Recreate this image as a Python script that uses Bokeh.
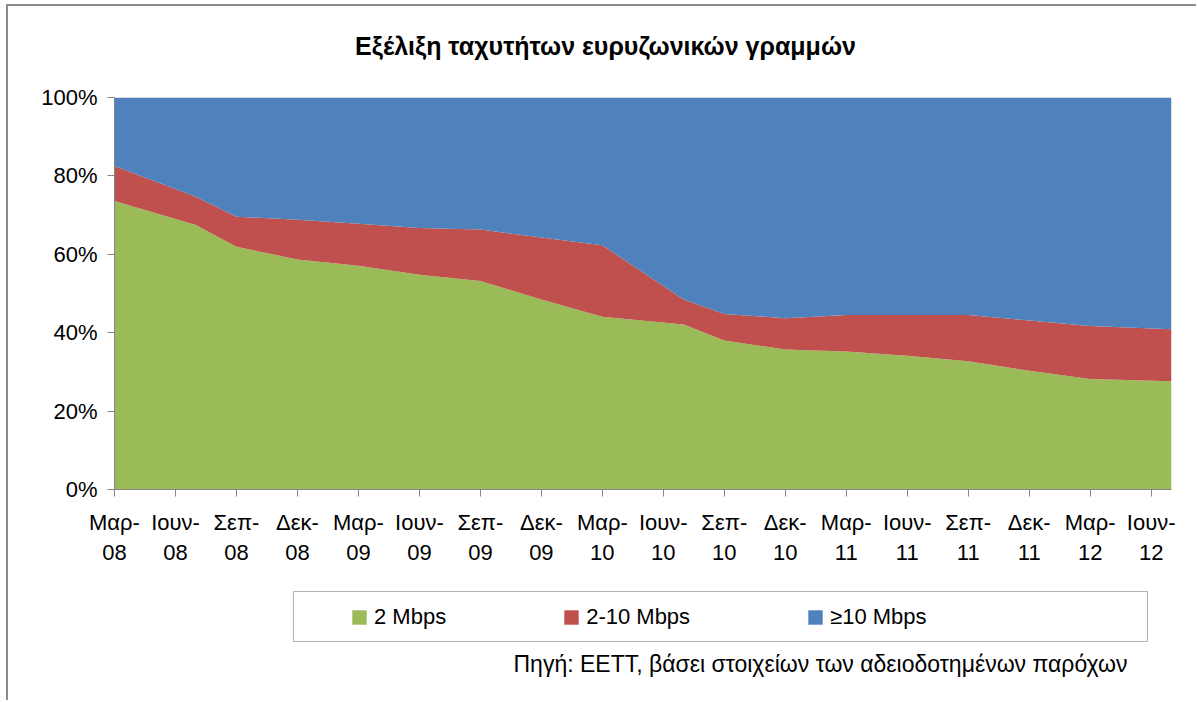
from bokeh.plotting import figure
from bokeh.layouts import column
from bokeh.models import Range1d, FixedTicker, Legend, LegendItem, ColumnDataSource, Label, BoxAnnotation
from bokeh.embed import file_html
from bokeh.resources import INLINE

# ---------------- data ----------------
dates = ["2008-03", "2008-07", "2008-09", "2008-12", "2009-03", "2009-06",
         "2009-09", "2009-12", "2010-03", "2010-07", "2010-09", "2010-12",
         "2011-03", "2011-06", "2011-09", "2011-12", "2012-03", "2012-07"]
share_2 = [73.6, 67.5, 61.9, 58.7, 57.1, 54.8, 53.2, 48.5, 44.1, 42.1,
           38.0, 35.7, 35.2, 34.1, 32.7, 30.3, 28.2, 27.6]
share_2_10 = [8.9, 7.2, 7.7, 10.1, 10.7, 11.9, 13.1, 15.8, 18.2, 6.4,
              6.8, 8.0, 9.3, 10.4, 11.8, 12.8, 13.5, 13.3]
share_10 = [17.5, 25.3, 30.4, 31.2, 32.2, 33.3, 33.7, 35.7, 37.7, 51.5,
            55.2, 56.3, 55.5, 55.5, 55.5, 56.9, 58.3, 59.1]
series_names = ["2 Mbps", "2-10 Mbps", "≥10 Mbps"]
series_colors = ["#9BBB59", "#C0504D", "#4F81BD"]
tick_labels = ["Μαρ-\n08", "Ιουν-\n08", "Σεπ-\n08", "Δεκ-\n08",
               "Μαρ-\n09", "Ιουν-\n09", "Σεπ-\n09", "Δεκ-\n09",
               "Μαρ-\n10", "Ιουν-\n10", "Σεπ-\n10", "Δεκ-\n10",
               "Μαρ-\n11", "Ιουν-\n11", "Σεπ-\n11", "Δεκ-\n11",
               "Μαρ-\n12", "Ιουν-\n12"]
y_ticks = [0, 20, 40, 60, 80, 100]
title_text = "Εξέλιξη ταχυτήτων ευρυζωνικών γραμμών"
source_text = "Πηγή: ΕΕΤΤ, βάσει στοιχείων των αδειοδοτημένων παρόχων"


def month_index(d):
    y, m = d.split("-")
    return (int(y) - 2008) * 12 + int(m) - 3


x = [month_index(d) for d in dates]
tick_pos = [3 * i for i in range(len(tick_labels))]

src = ColumnDataSource(dict(x=x, s2=share_2, s210=share_2_10, s10=share_10))

FONT = "Liberation Sans"
FS = "22px"
W = 1188


def strip(height):
    # the column aligns the frames, so these strips share the chart's frame (page x 114..1171)
    f = figure(width=W, height=height, output_backend="svg", toolbar_location=None,
               x_range=Range1d(114, 1171), y_range=Range1d(0, height),
               x_axis_location=None, y_axis_location=None,
               min_border_left=106, min_border_right=25,
               min_border_top=0, min_border_bottom=0)
    f.outline_line_color = None
    f.xgrid.visible = False
    f.ygrid.visible = False
    return f


# ---- title strip ----
top = strip(74)
top.add_layout(Label(x=605, y=35, text=title_text, text_font=FONT, text_font_size="25px",
                     text_font_style="bold", text_align="center", text_baseline="middle",
                     text_color="black"))

# ---- main chart ----
p = figure(width=W, height=489, output_backend="svg", toolbar_location=None,
           x_range=Range1d(0, 52), y_range=Range1d(0, 100),
           min_border_left=106, min_border_right=25, min_border_top=17,
           min_border_bottom=80)
p.outline_line_color = None
p.xgrid.visible = False
p.ygrid.visible = False

rs = p.varea_stack(["s2", "s210", "s10"], x="x", source=src, color=series_colors)

for ax in (p.xaxis[0], p.yaxis[0]):
    ax.axis_line_color = "#868686"
    ax.major_tick_line_color = "#868686"
    ax.major_tick_out = 7
    ax.major_tick_in = 0
    ax.minor_tick_line_color = None
    ax.major_label_text_font = FONT
    ax.major_label_text_font_size = FS
    ax.major_label_text_color = "black"

p.xaxis.ticker = FixedTicker(ticks=tick_pos)
p.xaxis.major_label_overrides = {t: l for t, l in zip(tick_pos, tick_labels)}
p.xaxis.major_label_standoff = 13
p.yaxis.ticker = FixedTicker(ticks=y_ticks)
p.yaxis.major_label_overrides = {t: f"{t}%" for t in y_ticks}
p.yaxis.major_label_standoff = 10

# ---- legend + source strip ----
bot = strip(131)
# hidden copies of the stacked areas, used only as legend swatches
proxies = bot.varea_stack(["s2", "s210", "s10"], x="x", source=src, color=series_colors)
for r in proxies:
    r.visible = False
legend = Legend(items=[LegendItem(label=n, renderers=[r]) for n, r in zip(series_names, proxies)],
                orientation="horizontal", location=(236, 70), click_policy="none",
                glyph_width=18, glyph_height=18, label_standoff=6, spacing=116,
                padding=0, margin=0, border_line_alpha=0, background_fill_alpha=0,
                inactive_fill_alpha=0,
                label_text_font=FONT, label_text_font_size=FS, label_text_color="black")
bot.add_layout(legend, "center")
bot.add_layout(BoxAnnotation(left=293, right=1147, bottom=59, top=109,
                             fill_alpha=0, line_color="black", line_width=1))
bot.add_layout(Label(x=1127, y=37, text=source_text, text_font=FONT, text_font_size="23px",
                     text_align="right", text_baseline="middle", text_color="black"))

layout = column(top, p, bot, spacing=0,
                styles={"margin-left": "6px", "margin-top": "4px",
                        "border-left": "2px solid #8a8a8a", "border-top": "2px solid #8a8a8a"})

open("out.html", "w").write(file_html(layout, INLINE))
